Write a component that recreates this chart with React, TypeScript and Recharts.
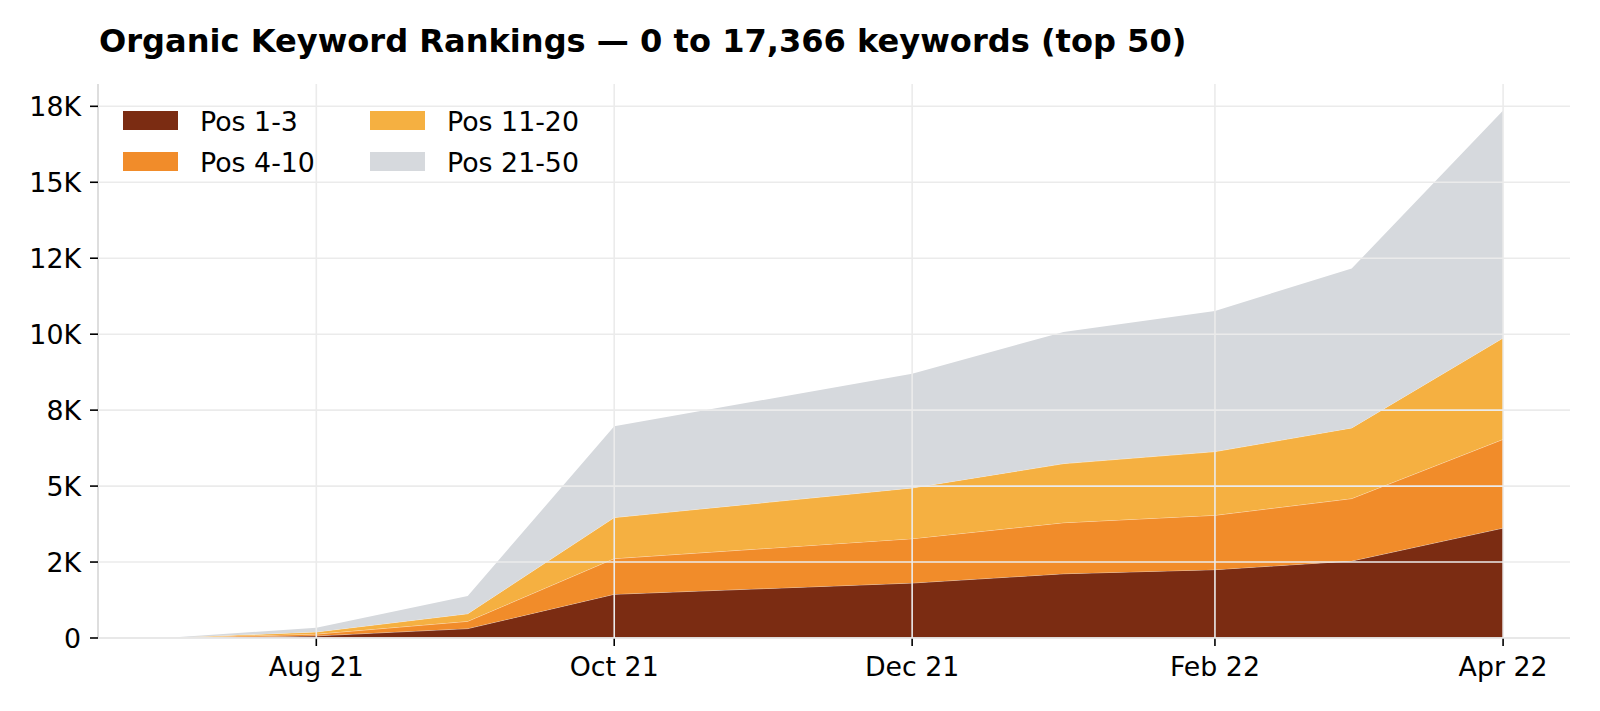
import { Area, AreaChart, CartesianGrid, XAxis, YAxis } from "recharts";

const months = ["2021-07-01", "2021-08-01", "2021-09-01", "2021-10-01", "2021-12-01", "2022-01-01", "2022-02-01", "2022-03-01", "2022-04-01"];
const pos1to3 = [0, 70, 310, 1440, 1810, 2115, 2250, 2535, 3620];
const pos4to10 = [0, 60, 240, 1175, 1460, 1680, 1790, 2055, 2920];
const pos11to20 = [0, 70, 250, 1350, 1670, 1945, 2095, 2325, 3335];
const pos21to50 = [0, 140, 580, 3005, 3760, 4335, 4630, 5245, 7491];

const xTickDates = ["2021-08-01", "2021-10-01", "2021-12-01", "2022-02-01", "2022-04-01"];
const xTickLabels = ["Aug 21", "Oct 21", "Dec 21", "Feb 22", "Apr 22"];
const yTicks = [0, 2500, 5000, 7500, 10000, 12500, 15000, 17500];
const yTickLabels = ["0", "2K", "5K", "8K", "10K", "12K", "15K", "18K"];

const COLORS = { top3: "#7B2C12", top10: "#F18C2A", top20: "#F5B041", top50: "#D6D9DD" };
const FONT = "DejaVu Sans, sans-serif";

const toTime = (s: string) => Date.parse(s + "T00:00:00Z");

const data = months.map((m, i) => ({
  t: toTime(m),
  pos1to3: pos1to3[i],
  pos4to10: pos4to10[i],
  pos11to20: pos11to20[i],
  pos21to50: pos21to50[i],
}));

const xTicks = xTickDates.map(toTime);
const tMin = data[0].t;
const tMax = data[data.length - 1].t;
const pad = (tMax - tMin) * 0.05;
const xDomain: [number, number] = [tMin - pad, tMax + pad];
const total = pos1to3.map((v, i) => v + pos4to10[i] + pos11to20[i] + pos21to50[i]);
const yMax = Math.max(...total) * 1.05;

const PLOT_FALLBACK = { left: 98, top: 84, width: 1472, height: 554 };

// grid only at the tick values (no frame at the domain edges)
const gridRows = ({ offset }: any) => {
  const o = offset ?? PLOT_FALLBACK;
  return yTicks.map((v) => o.top + o.height * (1 - v / yMax));
};
const gridCols = ({ offset }: any) => {
  const o = offset ?? PLOT_FALLBACK;
  return xTicks.map((v) => o.left + (o.width * (v - xDomain[0])) / (xDomain[1] - xDomain[0]));
};

const legendItems = [
  { label: "Pos 1-3", color: COLORS.top3, col: 0, row: 0 },
  { label: "Pos 4-10", color: COLORS.top10, col: 0, row: 1 },
  { label: "Pos 11-20", color: COLORS.top20, col: 1, row: 0 },
  { label: "Pos 21-50", color: COLORS.top50, col: 1, row: 1 },
];

export default function App() {
  return (
    <div style={{ position: "absolute", left: 0, top: 0, width: 1600, height: 711, background: "#fff" }}>
      <AreaChart width={1600} height={711} data={data} margin={{ top: 84, right: 30, bottom: 13, left: 0 }}>
        <XAxis
          dataKey="t"
          type="number"
          scale="time"
          domain={xDomain}
          ticks={xTicks}
          tickFormatter={(v) => xTickLabels[xTicks.indexOf(v)] ?? ""}
          height={60}
          tickSize={8}
          tickMargin={11}
          tick={{ fill: "#000", fontSize: 26.8, fontFamily: FONT }}
          tickLine={{ stroke: "#000", strokeWidth: 1.6 }}
          axisLine={{ stroke: "#d6d6d6", strokeWidth: 1.6 }}
          allowDataOverflow
        />
        <YAxis
          type="number"
          domain={[0, yMax]}
          ticks={yTicks}
          tickFormatter={(v) => yTickLabels[yTicks.indexOf(v)] ?? ""}
          width={98}
          tickSize={8}
          tickMargin={9}
          tick={{ fill: "#000", fontSize: 26.8, fontFamily: FONT }}
          tickLine={{ stroke: "#000", strokeWidth: 1.6 }}
          axisLine={{ stroke: "#d6d6d6", strokeWidth: 1.6 }}
          allowDataOverflow
        />
        <Area type="linear" dataKey="pos1to3" name="Pos 1-3" stackId="kw" stroke="#fff" strokeOpacity={0.7} strokeWidth={0.8} fill={COLORS.top3} fillOpacity={1} isAnimationActive={false} />
        <Area type="linear" dataKey="pos4to10" name="Pos 4-10" stackId="kw" stroke="#fff" strokeOpacity={0.7} strokeWidth={0.8} fill={COLORS.top10} fillOpacity={1} isAnimationActive={false} />
        <Area type="linear" dataKey="pos11to20" name="Pos 11-20" stackId="kw" stroke="#fff" strokeOpacity={0.7} strokeWidth={0.8} fill={COLORS.top20} fillOpacity={1} isAnimationActive={false} />
        <Area type="linear" dataKey="pos21to50" name="Pos 21-50" stackId="kw" stroke="none" fill={COLORS.top50} fillOpacity={1} isAnimationActive={false} />
        {/* grid sits above the areas, as in the reference */}
        <CartesianGrid
          stroke="#ebebeb"
          strokeWidth={1.6}
          zIndex={1000}
          horizontalCoordinatesGenerator={gridRows}
          verticalCoordinatesGenerator={gridCols}
        />
      </AreaChart>
      <svg width={1600} height={711} style={{ position: "absolute", left: 0, top: 0, pointerEvents: "none" }}>
        <text x={99} y={52} fontFamily={FONT} fontWeight="bold" fontSize={32.1} fill="#000">
          Organic Keyword Rankings — 0 to 17,366 keywords (top 50)
        </text>
        {legendItems.map((item) => {
          const x = 123 + item.col * 247;
          const y = 111 + item.row * 41;
          return (
            <g key={item.label}>
              <rect x={x} y={y} width={55} height={19} fill={item.color} />
              <text x={x + 77} y={y + 19.5} fontFamily={FONT} fontSize={26.8} fill="#000">
                {item.label}
              </text>
            </g>
          );
        })}
      </svg>
    </div>
  );
}
